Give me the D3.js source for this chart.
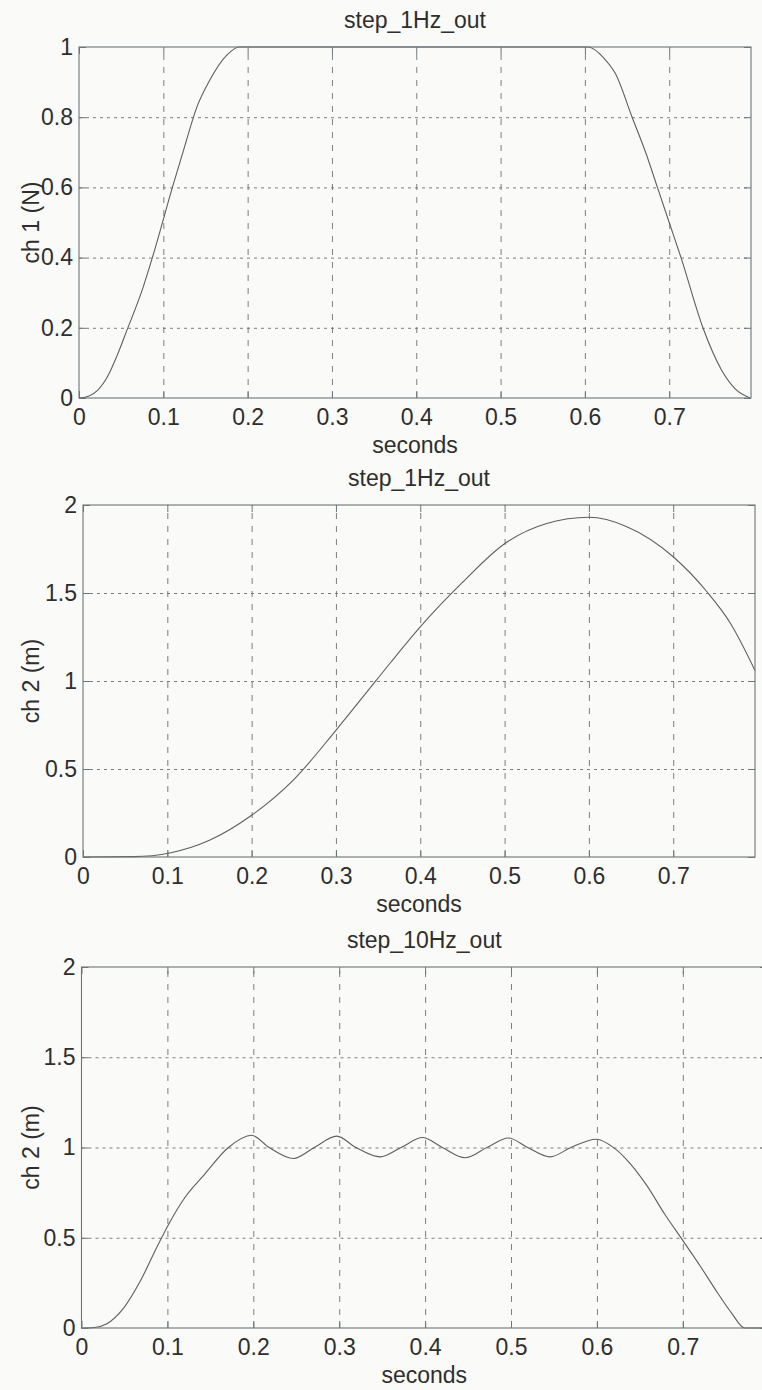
<!DOCTYPE html>
<html>
<head>
<meta charset="utf-8">
<script src="https://cdn.jsdelivr.net/npm/d3@7"></script>
<style>
  html, body { margin: 0; padding: 0; background: #fafaf8; }
  svg { display: block; }
  text { font-family: "Liberation Sans", Arial, sans-serif; fill: #2e2e2e; }
</style>
</head>
<body>
<svg id="chart" width="762" height="1390"></svg>
<script>
// ---- data ----
const titles = ["step_1Hz_out", "step_1Hz_out", "step_10Hz_out"];
const yLabels = ["ch 1 (N)", "ch 2 (m)", "ch 2 (m)"];
const xLabel = "seconds";
const xTickValues = [0, 0.1, 0.2, 0.3, 0.4, 0.5, 0.6, 0.7];
const yTicks1 = [0, 0.2, 0.4, 0.6, 0.8, 1];
const yTicks2 = [0, 0.5, 1, 1.5, 2];
const yTicks3 = [0, 0.5, 1, 1.5, 2];

const time1 = [0, 0.012, 0.022, 0.034, 0.045, 0.057, 0.075, 0.087, 0.112, 0.124, 0.140, 0.155, 0.175, 0.190,
               0.604, 0.622, 0.636, 0.656, 0.672, 0.686, 0.700, 0.714, 0.740, 0.762, 0.778, 0.796];
const ch1a  = [0, 0.006, 0.022, 0.062, 0.12, 0.194, 0.308, 0.40, 0.61, 0.706, 0.83, 0.905, 0.976, 1.0,
               1.0, 0.97, 0.925, 0.80, 0.70, 0.60, 0.50, 0.40, 0.20, 0.08, 0.027, 0];

const time2 = [0, 0.06, 0.103, 0.15, 0.2, 0.25, 0.3, 0.348, 0.4, 0.45, 0.5, 0.55, 0.6,
               0.645, 0.7, 0.74, 0.768, 0.797];
const ch2a  = [0, 0.002, 0.023, 0.095, 0.237, 0.44, 0.72, 1.005, 1.308, 1.56, 1.78, 1.895, 1.93,
               1.877, 1.706, 1.507, 1.327, 1.06];

const time3 = [0, 0.015, 0.029, 0.049, 0.068, 0.088, 0.1015, 0.121, 0.1425, 0.171, 0.198, 0.2185, 0.2467,
               0.271, 0.297, 0.3195, 0.3476, 0.372, 0.397, 0.42, 0.4466, 0.472, 0.497, 0.5195, 0.5455,
               0.5697, 0.599, 0.621, 0.6387, 0.658, 0.679, 0.7007, 0.720, 0.7396, 0.757, 0.772, 0.798];
const ch2b  = [0, 0.003, 0.022, 0.11, 0.256, 0.45, 0.575, 0.727, 0.847, 1.0, 1.068, 1.0, 0.939,
               1.0, 1.063, 1.0, 0.948, 1.0, 1.055, 1.0, 0.943, 1.0, 1.053, 1.0, 0.948,
               1.0, 1.046, 0.994, 0.911, 0.79, 0.63, 0.48, 0.345, 0.201, 0.081, 0, 0];

// ---- layout (pixel frames of the three axes) ----
const panels = [
  { t: time1, v: ch1a, yDom: [0, 1], yTicks: yTicks1, xEnd: 0.797, L: 79, R: 751, T: 47, B: 398 },
  { t: time2, v: ch2a, yDom: [0, 2], yTicks: yTicks2, xEnd: 0.797, L: 83, R: 755, T: 505, B: 857 },
  { t: time3, v: ch2b, yDom: [0, 2], yTicks: yTicks3, xEnd: 0.798, L: 81.5, R: 767, T: 967, B: 1328 }
];

const svg = d3.select("#chart");
const FS = 23;
const axisCol = "#6b767b";
const gridCol = "#6f6f6f";
const lineCol = "#5f5f5f";

panels.forEach((p, i) => {
  const x = d3.scaleLinear().domain([0, p.xEnd]).range([p.L, p.R]);
  const y = d3.scaleLinear().domain(p.yDom).range([p.B, p.T]);
  const g = svg.append("g");

  // vertical grid (dashed)
  const gx = g.append("g").attr("transform", `translate(0,${p.B})`)
    .call(d3.axisBottom(x).tickValues(xTickValues.filter(d => d > 0)).tickSize(-(p.B - p.T)).tickFormat(""));
  gx.select(".domain").remove();
  gx.selectAll("line").attr("stroke", gridCol).attr("stroke-width", 0.9).attr("stroke-dasharray", "6,7");

  // horizontal grid (dotted)
  const gy = g.append("g").attr("transform", `translate(${p.L},0)`)
    .call(d3.axisLeft(y).tickValues(p.yTicks.filter(d => d > p.yDom[0] && d < p.yDom[1])).tickSize(-(p.R - p.L)).tickFormat(""));
  gy.select(".domain").remove();
  gy.selectAll("line").attr("stroke", gridCol).attr("stroke-width", 0.9).attr("stroke-dasharray", "3,4");

  // data line
  const line = d3.line().x(d => x(d[0])).y(d => y(d[1])).curve(d3.curveMonotoneX);
  g.append("path").datum(d3.zip(p.t, p.v))
    .attr("d", line).attr("fill", "none").attr("stroke", lineCol).attr("stroke-width", 1.1);

  // box
  g.append("rect").attr("x", p.L).attr("y", p.T).attr("width", p.R - p.L).attr("height", p.B - p.T)
    .attr("fill", "none").attr("stroke", axisCol).attr("stroke-width", 1.1);

  // inner ticks on all four sides + labels on bottom/left
  const ab = g.append("g").attr("transform", `translate(0,${p.B})`)
    .call(d3.axisBottom(x).tickValues(xTickValues).tickSize(-7).tickPadding(11).tickFormat(d3.format("")));
  const at = g.append("g").attr("transform", `translate(0,${p.T})`)
    .call(d3.axisTop(x).tickValues(xTickValues).tickSize(-7).tickFormat(""));
  const al = g.append("g").attr("transform", `translate(${p.L},0)`)
    .call(d3.axisLeft(y).tickValues(p.yTicks).tickSize(-7).tickPadding(6).tickFormat(d3.format("")));
  const ar = g.append("g").attr("transform", `translate(${p.R},0)`)
    .call(d3.axisRight(y).tickValues(p.yTicks).tickSize(-7).tickFormat(""));
  [ab, at, al, ar].forEach(a => {
    a.select(".domain").remove();
    a.selectAll("line").attr("stroke", axisCol).attr("stroke-width", 1);
    a.selectAll("text").attr("font-size", FS).attr("font-family", "'Liberation Sans', Arial, sans-serif").attr("fill", "#2e2e2e");
  });

  // title
  g.append("text").attr("x", (p.L + p.R) / 2).attr("y", p.T - 27).attr("dy", "0.35em")
    .attr("text-anchor", "middle").attr("font-size", FS).text(titles[i]);
  // x label
  g.append("text").attr("x", (p.L + p.R) / 2).attr("y", p.B + 47).attr("dy", "0.35em")
    .attr("text-anchor", "middle").attr("font-size", FS).text(xLabel);
  // y label
  g.append("text").attr("transform", `translate(31,${(p.T + p.B) / 2}) rotate(-90)`).attr("dy", "0.35em")
    .attr("text-anchor", "middle").attr("font-size", FS).text(yLabels[i]);
});
</script>
</body>
</html>
